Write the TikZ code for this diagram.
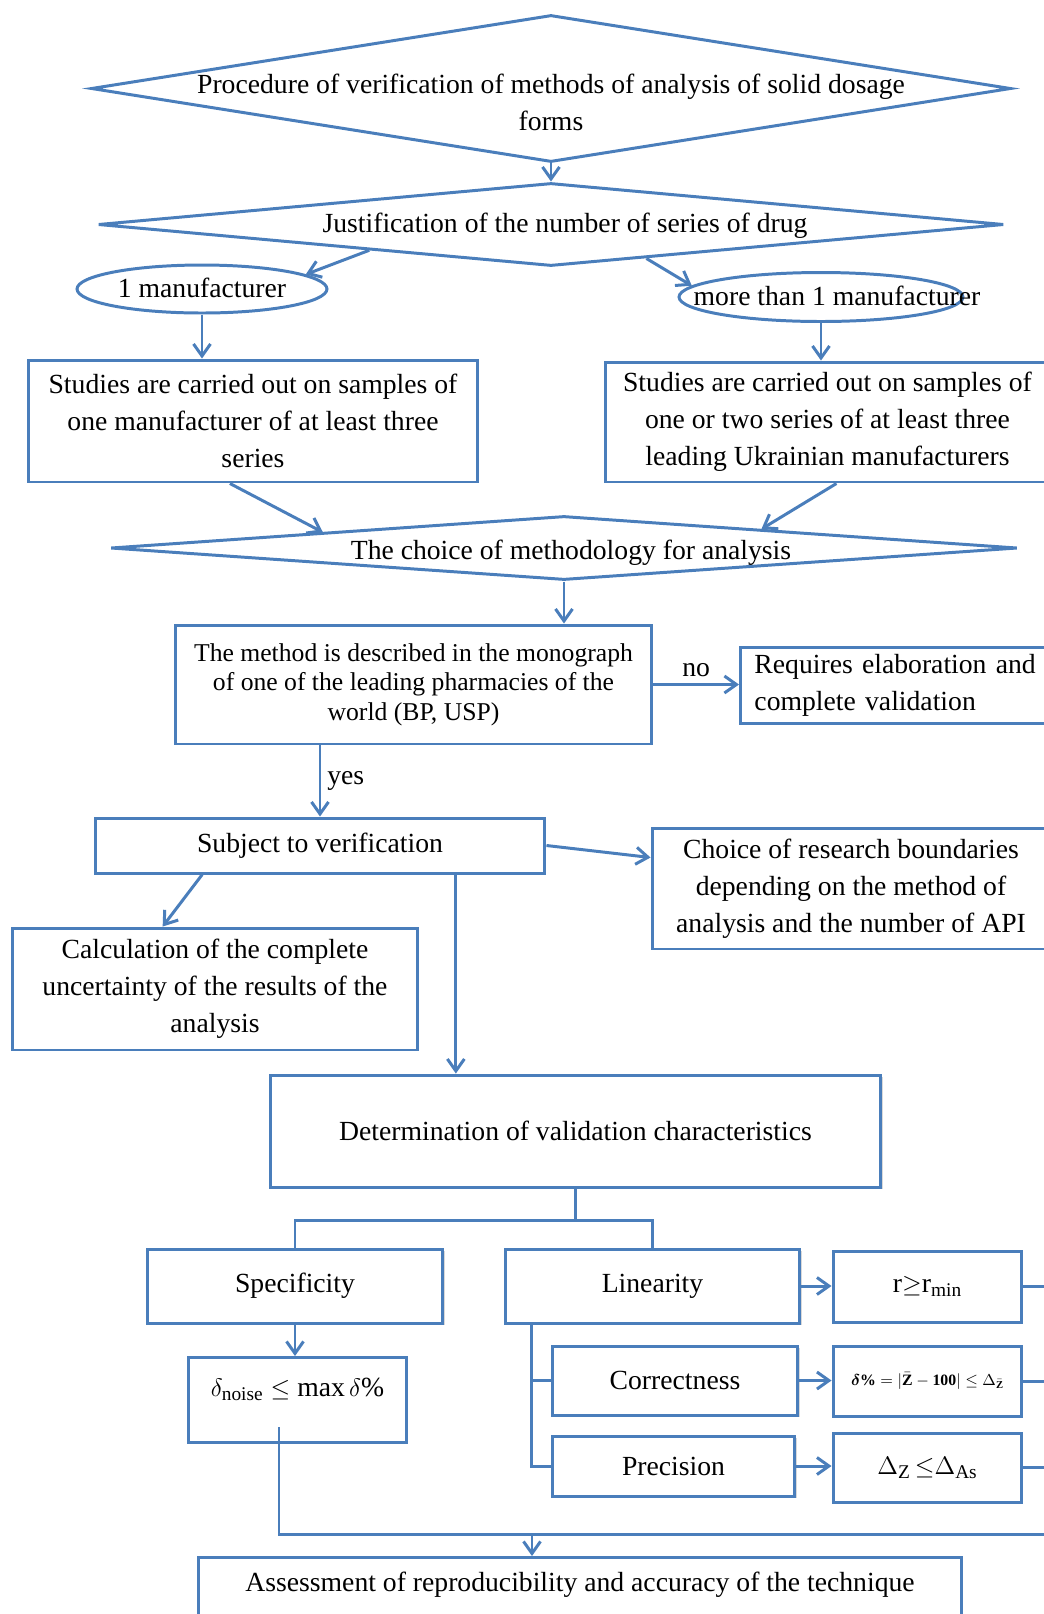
\documentclass[tikz,border=0pt]{standalone}
\usepackage{fontspec}
\usepackage{amsmath}
\setmainfont{Liberation Serif}
\usetikzlibrary{arrows.meta,positioning,shapes.geometric,calc,shadows}
\definecolor{flowblue}{HTML}{4A7EBB}
\newcommand{\mainsize}{\fontsize{15.75}{21}\selectfont}
\newcommand{\floattext}[3]{\makebox[0pt]{\hspace*{#1}\smash{\raisebox{#2}{#3}}}}
\tikzset{
  box/.style={rectangle,draw=flowblue,line width=1.7pt,fill=white,align=center,inner sep=3pt,font=\mainsize},
  boxshade/.style={box,drop shadow={shadow xshift=1.2pt,shadow yshift=-1.2pt,opacity=0.3}},
  decision/.style={diamond,draw=flowblue,line width=1.7pt,fill=white,inner sep=0pt,font=\mainsize},
  oval/.style={ellipse,draw=flowblue,line width=1.7pt,inner sep=0pt,font=\mainsize},
  arrow/.style={-{Straight Barb[length=2.4mm,width=3.4mm]},line width=1.7pt,flowblue},
  link/.style={line width=1.7pt,flowblue},
  tag/.style={font=\mainsize,text=black}
}

\begin{document}
\begin{tikzpicture}[x=0.02cm,y=-0.02cm]
  \useasboundingbox (0,0) rectangle (1044,1614);
  \clip (0,0) rectangle (1044,1614);

  % choice of drug series
  \node[decision,minimum width=18.4cm,minimum height=2.94cm] (proc) at (551,88.5)
    {\floattext{0cm}{-0.44cm}{\begin{tabular}{@{}c@{}}Procedure of verification of methods of analysis of solid dosage\\forms\end{tabular}}};
  \node[decision,minimum width=18.12cm,minimum height=1.66cm] (just) at (551,224.5)
    {\floattext{0.56cm}{-0.16cm}{Justification of the number of series of drug}};
  \node[oval,minimum width=5cm,minimum height=0.96cm] (one) at (202,289) {\floattext{0cm}{-0.16cm}{1 manufacturer}};
  \node[oval,minimum width=5.68cm,minimum height=0.98cm] (many) at (821,297) {\floattext{0.64cm}{-0.16cm}{more than 1 manufacturer}};
  \node[box,minimum width=9cm,minimum height=2.44cm] (oneser) at (253,421)
    {Studies are carried out on samples of\\one manufacturer of at least three\\series};
  \node[box,minimum width=8.9cm,minimum height=2.4cm] (manyser) at (827.5,422)
    {Studies are carried out on samples of\\one or two series of at least three\\leading Ukrainian manufacturers};

  % choice of method
  \node[decision,minimum width=18.14cm,minimum height=1.28cm] (choice) at (564,548)
    {\floattext{0.28cm}{-0.22cm}{The choice of methodology for analysis}};
  \node[box,minimum width=9.54cm,minimum height=2.38cm,font=\fontsize{14.6}{16.8}\selectfont] (mono) at (413.5,684.5)
    {The method is described in the monograph\\of one of the leading pharmacies of the\\world (BP, USP)};
  \node[box,anchor=west,text width=5.66cm,inner xsep=0.28cm,minimum height=1.52cm,align=left] (elab) at (739,685)
    {Requires elaboration and\\complete validation};
  \node[box,minimum width=9cm,minimum height=1.1cm] (subj) at (320,845.5) {Subject to verification};
  \node[box,minimum width=7.96cm,minimum height=2.42cm] (bound) at (851,888.5)
    {Choice of research boundaries\\depending on the method of\\analysis and the number of API};
  \node[box,minimum width=8.12cm,minimum height=2.44cm] (uncert) at (215,989)
    {Calculation of the complete\\uncertainty of the results of the\\analysis};

  % validation characteristics
  \node[boxshade,minimum width=12.22cm,minimum height=2.24cm] (valid) at (575.5,1131) {Determination of validation characteristics};
  \node[boxshade,minimum width=5.92cm,minimum height=1.48cm] (spec) at (295,1286) {Specificity};
  \node[boxshade,minimum width=5.9cm,minimum height=1.48cm] (lin) at (652.5,1286) {Linearity};
  \node[box,minimum width=3.78cm,minimum height=1.42cm] (rmin) at (927.5,1286.5) {$\mathrm{r}{\geq}\mathrm{r}_{\mathrm{min}}$};
  \node[box,anchor=north,minimum width=4.38cm,inner ysep=0pt,text height=0.78cm,text depth=0.92cm] (noise) at (297.5,1356)
    {$\delta_{\mathrm{noise}}\leq\max\delta\%$};
  \node[boxshade,minimum width=4.92cm,minimum height=1.38cm] (corr) at (675,1380.5) {Correctness};
  \node[box,minimum width=3.78cm,minimum height=1.4cm,font=\fontsize{9}{11}\selectfont] (trueval) at (927.5,1381)
    {$\boldsymbol{\delta}\boldsymbol{\%}=|\bar{\mathbf{Z}}-\mathbf{100}|\leq\Delta_{\bar{\mathbf{Z}}}$};
  \node[boxshade,minimum width=4.86cm,minimum height=1.2cm] (prec) at (673.5,1466) {Precision};
  \node[box,minimum width=3.78cm,minimum height=1.38cm] (repeat) at (927.5,1467.5) {$\Delta_{\mathrm{Z}}\,{\leq}\Delta_{\mathrm{As}}$};
  \node[box,anchor=north,minimum width=15.28cm,inner ysep=0pt,text height=0.68cm,text depth=0.6cm] (assess) at (580,1556)
    {Assessment of reproducibility and accuracy of the technique};

  % connectors
  \draw[arrow] (proc.south) -- (just.north);
  \draw[arrow] ($(just.west)!0.6!(just.south)$) -- (one.8);
  \draw[arrow] ($(just.south)!0.21!(just.east)$) -- (many.175);
  \draw[arrow] (one.south) -- (one.south |- oneser.north);
  \draw[arrow] (many.south) -- (many.south |- manyser.north);
  \draw[arrow] ($(oneser.south west)!0.449!(oneser.south east)$) -- ($(choice.west)!0.47!(choice.north)$);
  \draw[arrow] ($(manyser.south west)!0.52!(manyser.south east)$) -- ($(choice.north)!0.434!(choice.east)$);
  \draw[arrow] (choice.south) -- (choice.south |- mono.north);
  \draw[arrow] (mono.east) -- node[tag,above]{no} (mono.east -| elab.west);
  \draw[arrow] (subj.north |- mono.south) -- node[tag,right]{yes} (subj.north);
  \draw[arrow] (subj.east) -- ($(bound.north west)!0.25!(bound.south west)$);
  \draw[arrow] ($(subj.south west)!0.24!(subj.south east)$) -- ($(uncert.north west)!0.372!(uncert.north east)$);
  \coordinate (vdrop) at ($(subj.south west)!0.8!(subj.south east)$);
  \draw[arrow] (vdrop) -- (vdrop |- valid.north);

  \coordinate (fork) at ($(valid.south)+(0,32)$);
  \draw[link] (valid.south) -- (fork);
  \draw[link] (spec.north) |- (fork) -| (lin.north);
  \draw[arrow] (lin.east) -- (lin.east -| rmin.west);
  \draw[arrow] (spec.south) -- (spec.south |- noise.north);
  \coordinate (stem) at ($(lin.south west)!0.095!(lin.south east)$);
  \draw[link] (stem) |- (corr.west);
  \draw[link] (stem) |- (prec.west);
  \draw[arrow] (corr.east) -- (corr.east -| trueval.west);
  \draw[arrow] (prec.east) -- (prec.east -| repeat.west);
  \coordinate (rim) at (1044,0);
  \foreach \n in {rmin,trueval,repeat}
    \draw[link] (\n.east) -- (\n.east -| rim);
  \coordinate (drop) at (279,1427);
  \coordinate (rail) at (1044,1534);
  \draw[link] (drop) |- (rail);
  \coordinate (merge) at (532,1534);
  \draw[arrow] (merge) -- (merge |- assess.north);
\end{tikzpicture}
\end{document}
